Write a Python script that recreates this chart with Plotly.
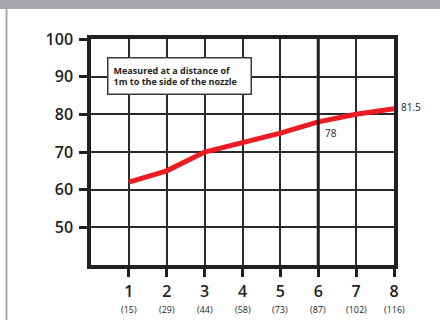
import plotly.graph_objects as go

speed_levels = [1, 2, 3, 4, 5, 6, 7, 8]
speed_secondary = ["(15)", "(29)", "(44)", "(58)", "(73)", "(87)", "(102)", "(116)"]
noise_db = [62, 65, 70, 72.5, 75, 78, 80, 81.5]
y_ticks = [50, 60, 70, 80, 90, 100]
note_text = "Measured at a distance of<br>1m to the side of the nozzle"

W, H = 440, 320
L, R, T, B = 91, 46, 39, 55
pw, ph = W - L - R, H - T - B

def px_x(p):
    return (p - L) / pw

def px_y(p):
    return (H - B - p) / ph

fig = go.Figure()
fig.add_trace(go.Scatter(
    x=speed_levels, y=noise_db, mode="lines",
    line=dict(color="#ed1c24", width=5, shape="linear"),
    hoverinfo="skip", showlegend=False,
))

fig.update_layout(
    width=W, height=H, autosize=False,
    margin=dict(l=L, r=R, t=T, b=B, autoexpand=False),
    paper_bgcolor="white", plot_bgcolor="white",
    font=dict(family="Open Sans", color="#231f20"),
    xaxis=dict(
        range=[0, 8], tickvals=speed_levels, ticktext=[str(v) for v in speed_levels],
        showgrid=True, gridcolor="#2b2b2b", gridwidth=1.5,
        showline=True, linecolor="#231f20", linewidth=3.5, mirror=True,
        ticks="outside", ticklen=8, tickwidth=3, tickcolor="#231f20",
        tickfont=dict(size=16, family="Open Sans", weight=600),
        ticklabelstandoff=1, automargin=False,
        zeroline=False, fixedrange=True,
    ),
    yaxis=dict(
        range=[40, 100], tickvals=y_ticks,
        showgrid=True, gridcolor="#2b2b2b", gridwidth=1.5,
        showline=True, linecolor="#231f20", linewidth=3.5, mirror=True,
        ticks="outside", ticklen=8, tickwidth=3, tickcolor="#231f20",
        tickfont=dict(size=16, family="Open Sans", weight=600),
        ticklabelstandoff=3, automargin=False,
        zeroline=False, fixedrange=True,
    ),
)

# secondary x labels
for lvl, sec in zip(speed_levels, speed_secondary):
    fig.add_annotation(x=lvl, y=px_y(309.5), xref="x", yref="paper", text=sec,
                       showarrow=False, xanchor="center", yanchor="middle",
                       font=dict(size=9, family="Open Sans", color="#231f20"))

# thick line at level 6
fig.add_shape(type="line", x0=6, x1=6, y0=40, y1=100, xref="x", yref="y",
              line=dict(color="#231f20", width=3))

# top gray band and left gray rule
fig.add_shape(type="rect", xref="paper", yref="paper",
              x0=px_x(0), x1=px_x(W), y0=px_y(9), y1=px_y(0),
              fillcolor="#a7a9ac", line=dict(width=0), layer="above")
fig.add_shape(type="line", xref="paper", yref="paper",
              x0=px_x(6.5), x1=px_x(6.5), y0=px_y(9), y1=px_y(H),
              line=dict(color="#a7a9ac", width=2))

# note box
fig.add_annotation(
    x=px_x(107), y=px_y(57), xref="paper", yref="paper",
    xanchor="left", yanchor="top", align="left",
    text=f"<b>{note_text}</b>", showarrow=False, width=132,
    font=dict(size=9, family="Open Sans", color="#231f20"),
    bgcolor="white", bordercolor="#3a3a3a", borderwidth=1.5, borderpad=5,
)

# value labels
fig.add_annotation(x=6, y=noise_db[5], xref="x", yref="y", text="78",
                   showarrow=False, xanchor="left", yanchor="top",
                   xshift=5, yshift=-2,
                   font=dict(size=10, family="Open Sans", color="#231f20"))
fig.add_annotation(x=8, y=noise_db[7], xref="x", yref="y", text="81.5",
                   showarrow=False, xanchor="left", yanchor="bottom",
                   xshift=5, yshift=-7,
                   font=dict(size=10, family="Open Sans", color="#231f20"))

fig.write_html("out.html", config={"displayModeBar": False},
               post_script="document.body.style.margin='0px';")
